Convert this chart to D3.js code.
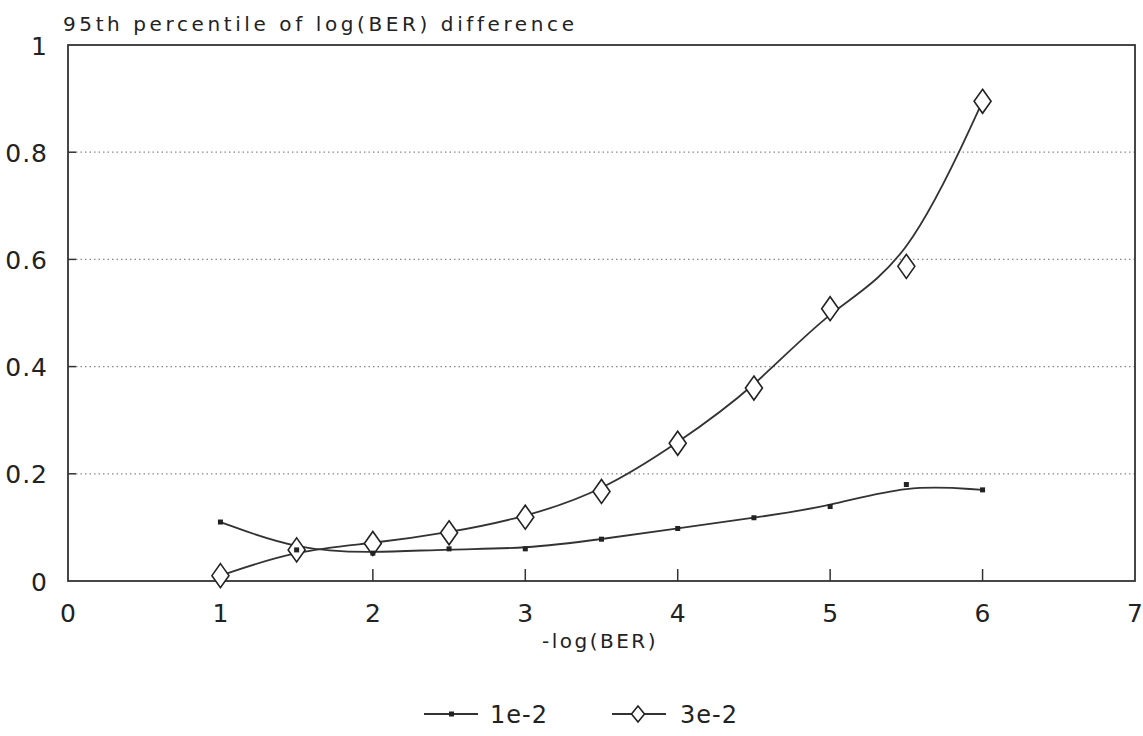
<!DOCTYPE html>
<html><head><meta charset="utf-8">
<script src="https://cdn.jsdelivr.net/npm/d3@7"></script>
<style>body{margin:0;background:#fff;} text{font-family:"DejaVu Sans","Liberation Sans",Arial,sans-serif;fill:#222;}</style>
</head><body>
<svg id="c" width="1143" height="736"></svg>
<script>
const xValues = [1, 1.5, 2, 2.5, 3, 3.5, 4, 4.5, 5, 5.5, 6];
const series1e2 = [0.110, 0.058, 0.052, 0.060, 0.060, 0.078, 0.098, 0.118, 0.139, 0.180, 0.170];
const series3e2 = [0.010, 0.058, 0.070, 0.090, 0.119, 0.167, 0.257, 0.360, 0.508, 0.587, 0.895];
const seriesNames = ["1e-2", "3e-2"];
const xTicks = [0, 1, 2, 3, 4, 5, 6, 7];
const yTicks = [0, 0.2, 0.4, 0.6, 0.8, 1];
const yTickLabels = ["0", "0.2", "0.4", "0.6", "0.8", "1"];
const yTitle = "95th percentile of log(BER) difference";
const xTitle = "-log(BER)";

const svg = d3.select("#c");
const L = 68, R = 1135, T = 45, B = 581;
const x = d3.scaleLinear().domain([0, 7]).range([L, R]);
const y = d3.scaleLinear().domain([0, 1]).range([B, T]);

// gridlines (dotted)
svg.append("g").selectAll("line").data(yTicks.filter(v => v > 0 && v < 1)).join("line")
  .attr("x1", L + 8).attr("x2", R).attr("y1", d => y(d)).attr("y2", d => y(d))
  .attr("stroke", "#888").attr("stroke-width", 1.2).attr("stroke-dasharray", "1.5 3");

// left tick marks
svg.append("g").selectAll("line").data(yTicks.filter(v => v > 0 && v < 1)).join("line")
  .attr("x1", L).attr("x2", L + 8).attr("y1", d => y(d)).attr("y2", d => y(d))
  .attr("stroke", "#333").attr("stroke-width", 1.5);

// bottom tick marks
svg.append("g").selectAll("line").data(xTicks.filter(v => v > 0 && v < 7)).join("line")
  .attr("x1", d => x(d)).attr("x2", d => x(d)).attr("y1", B).attr("y2", B - 12)
  .attr("stroke", "#333").attr("stroke-width", 1.5);

// frame
svg.append("rect").attr("x", L).attr("y", T).attr("width", R - L).attr("height", B - T)
  .attr("fill", "none").attr("stroke", "#333").attr("stroke-width", 1.8);

// y tick labels
svg.append("g").selectAll("text").data(yTicks).join("text")
  .attr("x", L - 20).attr("y", d => y(d)).attr("dy", "0.38em")
  .attr("text-anchor", "end").attr("font-size", 25).attr("letter-spacing", 1).text((d, i) => yTickLabels[i]);

// x tick labels
svg.append("g").selectAll("text").data(xTicks).join("text")
  .attr("x", d => x(d)).attr("y", 622)
  .attr("text-anchor", "middle").attr("font-size", 25).text(d => d);

// titles
svg.append("text").attr("x", 63).attr("y", 31).attr("font-size", 20)
  .attr("letter-spacing", 3.6).text(yTitle);
svg.append("text").attr("x", 600).attr("y", 648).attr("text-anchor", "middle")
  .attr("font-size", 20).attr("letter-spacing", 2.5).text(xTitle);

const line = d3.line().x((d, i) => x(xValues[i])).y(d => y(d)).curve(d3.curveBasis);

function diamond(g, cx, cy, w, h) {
  g.append("path")
    .attr("d", `M${cx},${cy - h / 2}L${cx + w / 2},${cy}L${cx},${cy + h / 2}L${cx - w / 2},${cy}Z`)
    .attr("fill", "#fff").attr("stroke", "#222").attr("stroke-width", 1.6);
}

// series lines
svg.append("path").datum(series1e2).attr("d", line)
  .attr("fill", "none").attr("stroke", "#333").attr("stroke-width", 1.8);
svg.append("path").datum(series3e2).attr("d", line)
  .attr("fill", "none").attr("stroke", "#333").attr("stroke-width", 1.8);

const gD = svg.append("g");
series3e2.forEach((v, i) => diamond(gD, x(xValues[i]), y(v), 17, 24));

svg.append("g").selectAll("rect").data(series1e2).join("rect")
  .attr("x", (d, i) => x(xValues[i]) - 2.5).attr("y", d => y(d) - 2.5)
  .attr("width", 5).attr("height", 5).attr("fill", "#222");

// legend
const lg = svg.append("g");
const ly = 714;
lg.append("line").attr("x1", 424).attr("x2", 478).attr("y1", ly).attr("y2", ly).attr("stroke", "#333").attr("stroke-width", 1.8);
lg.append("rect").attr("x", 449).attr("y", ly - 2.5).attr("width", 5).attr("height", 5).attr("fill", "#222");
lg.append("text").attr("x", 490).attr("y", ly + 9).attr("font-size", 24).attr("letter-spacing", 1).text(seriesNames[0]);
lg.append("line").attr("x1", 612).attr("x2", 666).attr("y1", ly).attr("y2", ly).attr("stroke", "#333").attr("stroke-width", 1.8);
diamond(lg, 638, ly, 13, 16);
lg.append("text").attr("x", 680).attr("y", ly + 9).attr("font-size", 24).attr("letter-spacing", 1).text(seriesNames[1]);
</script>
</body></html>
